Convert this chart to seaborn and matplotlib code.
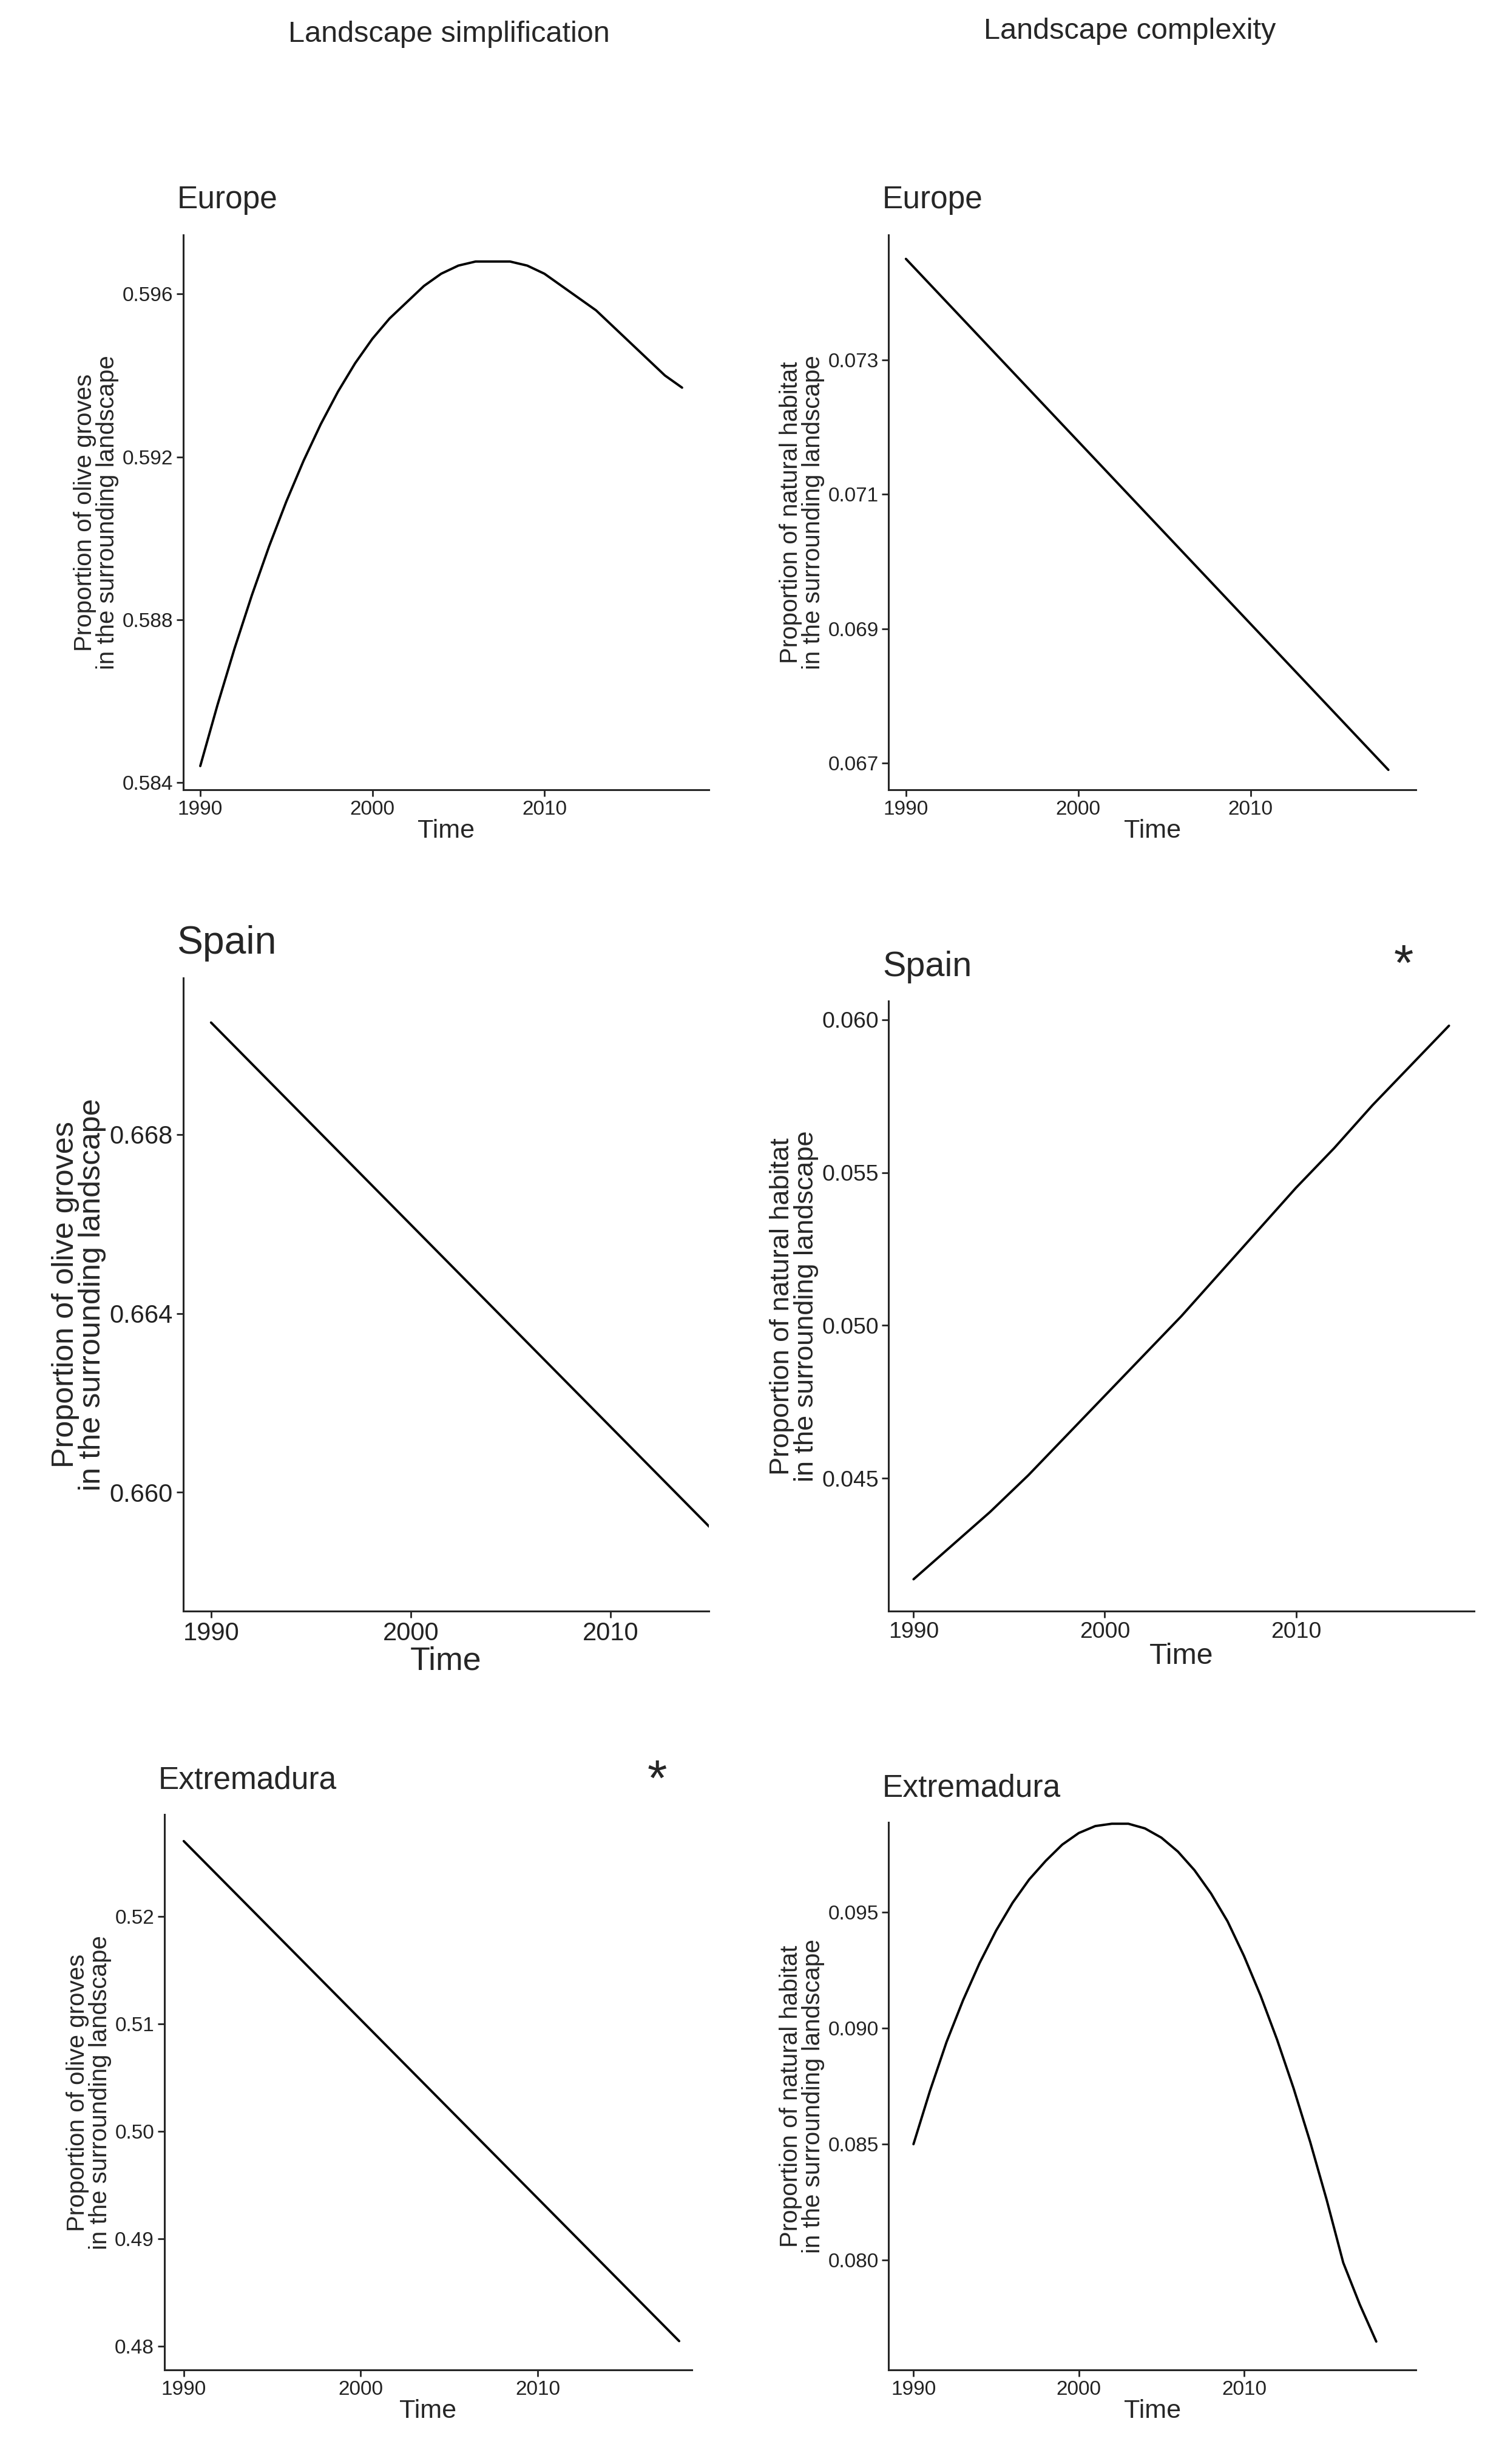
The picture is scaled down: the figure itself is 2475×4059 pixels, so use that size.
import matplotlib
matplotlib.use("Agg")
import matplotlib.pyplot as plt
import seaborn as sns
import pandas as pd

sns.set_style("ticks")
plt.rcParams['font.family'] = ['Liberation Sans', 'DejaVu Sans']

col_titles = ["Landscape simplification", "Landscape complexity"]

eu_simp_years = [1990, 1991, 1992, 1993, 1994, 1995, 1996, 1997, 1998, 1999, 2000, 2001, 2002, 2003, 2004,
                 2005, 2006, 2007, 2008, 2009, 2010, 2011, 2012, 2013, 2014, 2015, 2016, 2017, 2018]
eu_simp_vals = [0.5844, 0.5859, 0.5873, 0.5886, 0.5898, 0.5909, 0.5919, 0.5928, 0.5936, 0.5943, 0.5949,
                0.5954, 0.5958, 0.5962, 0.5965, 0.5967, 0.5968, 0.5968, 0.5968, 0.5967, 0.5965, 0.5962,
                0.5959, 0.5956, 0.5952, 0.5948, 0.5944, 0.5940, 0.5937]
eu_comp_years = [1990, 2018]
eu_comp_vals = [0.0745, 0.0669]
es_simp_years = [1990, 2015]
es_simp_vals = [0.6705, 0.6592]
es_comp_years = [1990, 1992, 1994, 1996, 1998, 2000, 2002, 2004, 2006, 2008, 2010, 2012, 2014, 2016, 2018]
es_comp_vals = [0.0417, 0.0428, 0.0439, 0.0451, 0.0464, 0.0477, 0.0490, 0.0503, 0.0517, 0.0531,
                0.0545, 0.0558, 0.0572, 0.0585, 0.0598]
ex_simp_years = [1990, 2018]
ex_simp_vals = [0.527, 0.4805]
ex_comp_years = [1990, 1991, 1992, 1993, 1994, 1995, 1996, 1997, 1998, 1999, 2000, 2001, 2002, 2003, 2004,
                 2005, 2006, 2007, 2008, 2009, 2010, 2011, 2012, 2013, 2014, 2015, 2016, 2017, 2018]
ex_comp_vals = [0.0850, 0.0873, 0.0894, 0.0912, 0.0928, 0.0942, 0.0954, 0.0964, 0.0972, 0.0979, 0.0984,
                0.0987, 0.0988, 0.0988, 0.0986, 0.0982, 0.0976, 0.0968, 0.0958, 0.0946, 0.0931, 0.0914,
                0.0895, 0.0874, 0.0851, 0.0826, 0.0799, 0.0781, 0.0765]

ylab_simp = "Proportion of olive groves\nin the surrounding landscape"
ylab_comp = "Proportion of natural habitat\nin the surrounding landscape"

W, H = 960.0, 1575.0
fig = plt.figure(figsize=(24.75, 40.59), dpi=100)

panels = [
    (eu_simp_years, eu_simp_vals, (117, 150, 453, 505), (1989, 2019.55), (0.58381, 0.59746),
     [0.584, 0.588, 0.592, 0.596], "{:.3f}", "Europe", ylab_simp, 1.0, None),
    (eu_comp_years, eu_comp_vals, (568, 150, 905, 505), (1989, 2019.6), (0.0666, 0.07486),
     [0.067, 0.069, 0.071, 0.073], "{:.3f}", "Europe", ylab_comp, 1.0, None),
    (es_simp_years, es_simp_vals, (117, 625, 453, 1030), (1988.6, 2014.9), (0.65734, 0.6715),
     [0.660, 0.664, 0.668], "{:.3f}", "Spain", ylab_simp, 1.25, None),
    (es_comp_years, es_comp_vals, (568, 640, 942, 1030), (1988.7, 2019.3), (0.04065, 0.0606),
     [0.045, 0.050, 0.055, 0.060], "{:.3f}", "Spain", ylab_comp, 1.12, (897, 612)),
    (ex_simp_years, ex_simp_vals, (105, 1160, 442, 1515), (1988.9, 2018.7), (0.4778, 0.52945),
     [0.48, 0.49, 0.50, 0.51, 0.52], "{:.2f}", "Extremadura", ylab_simp, 1.0, (420, 1133)),
    (ex_comp_years, ex_comp_vals, (568, 1165, 905, 1515), (1988.5, 2020.4), (0.07527, 0.09885),
     [0.080, 0.085, 0.090, 0.095], "{:.3f}", "Extremadura", ylab_comp, 1.0, None),
]

for yrs, vals, (l, t, r, b), xl, yl, yt, fmt, title, ylab, fs, star in panels:
    ax = fig.add_axes([l / W, 1 - b / H, (r - l) / W, (b - t) / H])
    df = pd.DataFrame({"Time": yrs, "v": vals})
    sns.lineplot(data=df, x="Time", y="v", ax=ax, color="black", linewidth=2.8)
    ax.set_xlim(*xl)
    ax.set_ylim(*yl)
    ax.set_xticks([1990, 2000, 2010])
    ax.set_yticks(yt)
    ax.set_yticklabels([fmt.format(v) for v in yt])
    ax.tick_params(labelsize=24 * fs, width=2, length=8, colors="#222222", pad=4)
    ax.set_xlabel("Time", fontsize=31 * fs, labelpad=0)
    ax.set_ylabel(ylab, fontsize=29 * fs, labelpad=4, linespacing=0.95)
    for s in ["left", "bottom"]:
        ax.spines[s].set_linewidth(2.2)
    sns.despine(ax=ax)
    fig.text((l - 4) / W, 1 - (t - 22) / H, title, fontsize=37 * fs, ha="left", va="center")
    if star:
        fig.text(star[0] / W, 1 - (star[1] + 6) / H, "*", fontsize=60, ha="center", va="center")

fig.text(287 / W, 1 - 22 / H, col_titles[0], fontsize=35, ha="center", va="center")
fig.text(722 / W, 1 - 20 / H, col_titles[1], fontsize=35, ha="center", va="center")

fig.savefig("out.png", dpi=100, facecolor="white")
